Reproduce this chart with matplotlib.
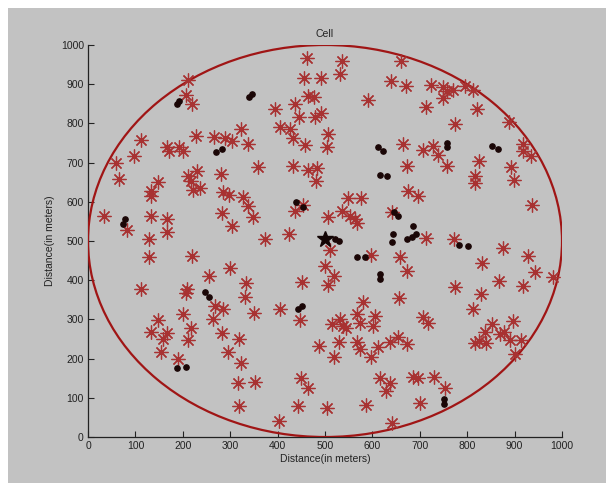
import matplotlib.pyplot as plt
from matplotlib.patches import Ellipse, Rectangle

# user positions (asterisks)
users_x = [
    210, 206, 220, 227, 112, 96, 60, 65, 166, 171, 191, 201,
    266, 289, 304, 323, 338, 359, 210, 217, 222, 236, 231,
    148, 133, 133, 281, 285, 298, 328, 337, 283, 34, 133, 166, 349, 303,
    461, 535, 532, 456, 492, 660, 639, 671, 724,
    748, 757, 771, 795, 813, 748, 713, 820, 774,
    591, 465, 476, 437, 395, 446, 479, 492,
    405, 426, 432, 458, 507, 504,
    433, 465, 484, 482, 665, 706, 728, 738, 757,
    672, 676, 697, 825, 816, 816,
    437, 454, 507, 535, 549, 575, 553, 563, 567, 641,
    889, 917, 918, 935, 892, 899, 937,
    82, 129, 167, 129, 220, 300, 256, 333, 331,
    112, 208, 207, 268, 285, 263, 201, 217, 210,
    148, 132, 167, 159, 154, 189, 283, 319, 295, 323, 317, 319,
    373, 425, 511, 598, 658, 672, 499, 518, 507, 452,
    350, 406, 447, 581, 657,
    532, 514, 539, 544, 567, 574, 605, 602,
    530, 487, 518, 568, 574, 611, 597, 637, 653, 672,
    352, 449, 465, 442, 505, 586, 403, 616, 637, 628, 641,
    713, 773, 875, 929, 943, 982, 918, 867, 831, 829, 812, 774,
    707, 718, 852, 838, 825, 816, 839, 869, 878, 890, 896, 913, 901,
    686, 697, 729, 753, 700,
]
users_y = [
    911, 873, 849, 769, 758, 716, 699, 659, 739, 729, 741, 729,
    765, 762, 755, 786, 747, 690, 665, 652, 631, 635, 678,
    651, 627, 614, 672, 624, 618, 612, 589, 572, 563, 563, 555, 560, 538,
    968, 959, 925, 915, 915, 960, 908, 896, 898,
    892, 883, 885, 896, 885, 864, 843, 837, 798,
    860, 870, 867, 849, 836, 816, 816, 826,
    792, 785, 763, 746, 774, 739,
    692, 682, 686, 652, 748, 733, 743, 720, 692,
    692, 628, 616, 703, 665, 648,
    576, 593, 562, 576, 610, 610, 563, 555, 547, 574,
    803, 748, 729, 718, 690, 656, 591,
    529, 506, 523, 459, 463, 430, 411, 394, 357,
    377, 377, 368, 334, 326, 302, 315, 279, 248,
    298, 269, 266, 249, 216, 198, 266, 249, 218, 188, 137, 80,
    506, 517, 476, 464, 459, 423, 436, 411, 387, 396,
    317, 327, 298, 345, 355,
    302, 288, 283, 277, 315, 292, 309, 283,
    243, 232, 204, 243, 224, 230, 203, 243, 254, 237,
    141, 150, 125, 80, 75, 81, 41, 150, 137, 118, 35,
    508, 506, 481, 461, 422, 409, 385, 398, 444, 366, 327, 383,
    306, 292, 289, 269, 245, 239, 239, 262, 269, 247, 296, 247, 211,
    153, 150, 153, 126, 87,
]

# small dots
dots_x = [187, 192, 269, 282, 340, 347, 78, 74,
          611, 623, 758, 758, 616, 630, 439, 454, 646, 655, 685,
          853, 864, 247, 256, 187, 207,
          521, 530, 644, 641, 672, 683, 692, 567, 584, 615, 615, 444, 451,
          783, 802, 752, 750]
dots_y = [849, 858, 728, 734, 867, 875, 556, 544,
          739, 730, 750, 740, 669, 667, 599, 587, 574, 565, 538,
          743, 735, 370, 357, 176, 179,
          506, 501, 518, 498, 506, 510, 518, 459, 459, 417, 402, 326, 334,
          489, 487, 97, 84]

bs_x, bs_y = [500], [504]
cell_center = (500, 500)
cell_diameter = 1000

plt.rcParams['font.family'] = ['Liberation Sans', 'DejaVu Sans']

fig = plt.figure(figsize=(6.06, 4.83), dpi=100, facecolor='white')
bg = '#c2c2c2'
fig.patches.append(Rectangle((8 / 606, 0), 1, 1 - 8 / 483, transform=fig.transFigure,
                             facecolor=bg, edgecolor='none', zorder=-10))

ax = fig.add_axes([88 / 606, 46 / 483, 474 / 606, 392 / 483])
ax.set_facecolor(bg)

ax.add_patch(Ellipse(cell_center, cell_diameter, cell_diameter, fill=False,
                     edgecolor='#a01515', linewidth=1.6, zorder=3))

ax.plot(users_x, users_y, linestyle='none', marker=(8, 2, 0), markersize=10,
        markeredgewidth=0.9, color='#a83232', zorder=4)
ax.plot(dots_x, dots_y, linestyle='none', marker='o', markersize=3.8,
        color='#1a0606', zorder=5)
ax.plot(bs_x, bs_y, linestyle='none', marker='*', markersize=12,
        color='#120404', zorder=6)

ax.set_xlim(0, 1000)
ax.set_ylim(0, 1000)
ax.set_xticks(range(0, 1001, 100))
ax.set_yticks(range(0, 1001, 100))
ax.tick_params(direction='in', length=4, width=0.8, labelsize=7.5, colors='#222222', pad=3)
for side in ['top', 'right']:
    ax.spines[side].set_visible(False)
for side in ['left', 'bottom']:
    ax.spines[side].set_linewidth(0.9)
    ax.spines[side].set_color('#222222')

ax.set_title('Cell', fontsize=7.5, color='#222222', pad=6)
ax.set_xlabel('Distance(in meters)', fontsize=7.5, color='#222222', labelpad=2)
ax.set_ylabel('Distance(in meters)', fontsize=7.5, color='#222222', labelpad=4)

fig.savefig('out.png', dpi=100, facecolor=fig.get_facecolor())
